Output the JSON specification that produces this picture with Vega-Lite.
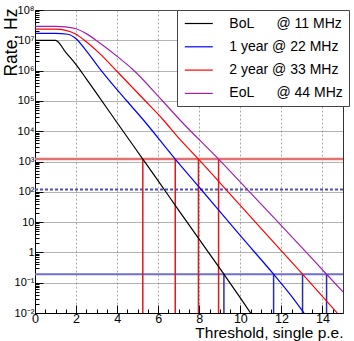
{
  "$schema": "https://vega.github.io/schema/vega-lite/v6.json",
  "width": 308,
  "height": 303,
  "autosize": {"type": "none"},
  "padding": {"left": 35, "top": 10, "right": 11, "bottom": 28},
  "background": "white",
  "config": {
    "font": "Liberation Sans",
    "view": {"stroke": "#333", "strokeWidth": 1},
    "axis": {
      "labelFont": "Liberation Sans",
      "titleFont": "Liberation Sans",
      "labelColor": "#000",
      "titleColor": "#000",
      "titleFontWeight": "normal",
      "domainColor": "#000",
      "tickColor": "#000"
    }
  },
  "layer": [
    {
      "data": {"values": [{"rate": 1200}]},
      "mark": {"type": "rule", "color": "#e57070", "strokeWidth": 2.5},
      "encoding": {
        "y": {"field": "rate", "type": "quantitative", "scale": {"type": "log", "domain": [0.01, 100000000], "nice": false}, "axis": null}
      }
    },
    {
      "data": {"values": [{"rate": 120}]},
      "mark": {"type": "rule", "color": "#4d4dc0", "strokeWidth": 2, "strokeDash": [3, 2]},
      "encoding": {
        "y": {"field": "rate", "type": "quantitative", "axis": null}
      }
    },
    {
      "data": {"values": [{"rate": 0.19}]},
      "mark": {"type": "rule", "color": "#6f6fd0", "strokeWidth": 2},
      "encoding": {
        "y": {"field": "rate", "type": "quantitative", "axis": null}
      }
    },
    {
      "data": {"values": [
        {"x": 5.25, "rate": 1200},
        {"x": 6.83, "rate": 1200},
        {"x": 7.96, "rate": 1200},
        {"x": 8.94, "rate": 1200}
      ]},
      "mark": {"type": "rule", "color": "#e01818", "strokeWidth": 1.5},
      "encoding": {
        "x": {"field": "x", "type": "quantitative", "axis": {
          "orient": "bottom",
          "values": [0.5, 1, 1.5, 2.5, 3, 3.5, 4.5, 5, 5.5, 6.5, 7, 7.5, 8.5, 9, 9.5, 10.5, 11, 11.5, 12.5, 13, 13.5, 14.5],
          "labels": false, "tickSize": -4, "domain": false, "grid": false, "title": null
        }},
        "y": {"field": "rate", "type": "quantitative", "axis": {
          "orient": "left",
          "values": [0.02,0.03,0.04,0.05,0.06,0.07,0.08,0.09,0.2,0.3,0.4,0.5,0.6,0.7,0.8,0.9,2,3,4,5,6,7,8,9,20,30,40,50,60,70,80,90,200,300,400,500,600,700,800,900,2000,3000,4000,5000,6000,7000,8000,9000,20000,30000,40000,50000,60000,70000,80000,90000,200000,300000,400000,500000,600000,700000,800000,900000,2000000,3000000,4000000,5000000,6000000,7000000,8000000,9000000,20000000,30000000,40000000,50000000,60000000,70000000,80000000,90000000],
          "labels": false, "tickSize": -4, "domain": false, "grid": false, "title": null
        }},
        "y2": {"datum": 0.01}
      }
    },
    {
      "data": {"values": [
        {"x": 9.2, "rate": 0.19},
        {"x": 11.62, "rate": 0.19},
        {"x": 13.03, "rate": 0.19},
        {"x": 14.2, "rate": 0.19}
      ]},
      "mark": {"type": "rule", "color": "#2a2ab0", "strokeWidth": 1.5},
      "encoding": {
        "x": {"field": "x", "type": "quantitative", "axis": null},
        "y": {"field": "rate", "type": "quantitative", "axis": null},
        "y2": {"datum": 0.01}
      }
    },
    {
      "data": {"values": [
        {"series": "BoL", "x": 0, "rate": 10000000},
        {"series": "BoL", "x": 1.0, "rate": 10000000},
        {"series": "BoL", "x": 1.5, "rate": 3981000},
        {"series": "BoL", "x": 2.0, "rate": 1585000},
        {"series": "BoL", "x": 2.5, "rate": 537000},
        {"series": "BoL", "x": 3.0, "rate": 177800},
        {"series": "BoL", "x": 4.0, "rate": 19050},
        {"series": "BoL", "x": 5.25, "rate": 1202},
        {"series": "BoL", "x": 6.0, "rate": 229},
        {"series": "BoL", "x": 7.0, "rate": 24.5},
        {"series": "BoL", "x": 8.0, "rate": 2.69},
        {"series": "BoL", "x": 9.2, "rate": 0.1905},
        {"series": "BoL", "x": 10.0, "rate": 0.0316},
        {"series": "BoL", "x": 10.5, "rate": 0.01},
        {"series": "1 year", "x": 0, "rate": 16980000},
        {"series": "1 year", "x": 1.0, "rate": 16980000},
        {"series": "1 year", "x": 1.6, "rate": 15850000},
        {"series": "1 year", "x": 2.0, "rate": 11220000},
        {"series": "1 year", "x": 2.5, "rate": 4467000},
        {"series": "1 year", "x": 3.17, "rate": 1122000},
        {"series": "1 year", "x": 3.81, "rate": 331100},
        {"series": "1 year", "x": 4.43, "rate": 107200},
        {"series": "1 year", "x": 5.28, "rate": 23440},
        {"series": "1 year", "x": 6.83, "rate": 1202},
        {"series": "1 year", "x": 8.0, "rate": 141.3},
        {"series": "1 year", "x": 10.0, "rate": 3.548},
        {"series": "1 year", "x": 11.62, "rate": 0.1905},
        {"series": "1 year", "x": 12.5, "rate": 0.0355},
        {"series": "1 year", "x": 13.1, "rate": 0.01},
        {"series": "2 year", "x": 0, "rate": 23440000},
        {"series": "2 year", "x": 1.0, "rate": 23440000},
        {"series": "2 year", "x": 1.5, "rate": 21380000},
        {"series": "2 year", "x": 2.0, "rate": 15850000},
        {"series": "2 year", "x": 2.5, "rate": 8913000},
        {"series": "2 year", "x": 3.17, "rate": 3548000},
        {"series": "2 year", "x": 4.0, "rate": 933300},
        {"series": "2 year", "x": 5.33, "rate": 107200},
        {"series": "2 year", "x": 6.25, "rate": 23440},
        {"series": "2 year", "x": 7.06, "rate": 5370},
        {"series": "2 year", "x": 7.96, "rate": 1202},
        {"series": "2 year", "x": 10.0, "rate": 35.5},
        {"series": "2 year", "x": 12.0, "rate": 1.122},
        {"series": "2 year", "x": 13.03, "rate": 0.1905},
        {"series": "2 year", "x": 14.72, "rate": 0.01},
        {"series": "EoL", "x": 0, "rate": 28840000},
        {"series": "EoL", "x": 1.0, "rate": 28840000},
        {"series": "EoL", "x": 1.5, "rate": 27540000},
        {"series": "EoL", "x": 2.0, "rate": 23990000},
        {"series": "EoL", "x": 2.5, "rate": 16600000},
        {"series": "EoL", "x": 3.17, "rate": 7943000},
        {"series": "EoL", "x": 4.0, "rate": 2951000},
        {"series": "EoL", "x": 4.79, "rate": 1047000},
        {"series": "EoL", "x": 6.17, "rate": 107200},
        {"series": "EoL", "x": 7.06, "rate": 23440},
        {"series": "EoL", "x": 8.94, "rate": 1202},
        {"series": "EoL", "x": 11.0, "rate": 39.8},
        {"series": "EoL", "x": 13.0, "rate": 1.445},
        {"series": "EoL", "x": 14.2, "rate": 0.1905},
        {"series": "EoL", "x": 15.0, "rate": 0.0501}
      ]},
      "mark": {"type": "line", "strokeWidth": 1.2, "interpolate": "monotone", "clip": true},
      "encoding": {
        "x": {"field": "x", "type": "quantitative", "scale": {"domain": [0, 15], "nice": false, "zero": false}, "axis": {
          "orient": "bottom",
          "values": [0, 2, 4, 6, 8, 10, 12, 14],
          "labelFontSize": 12.5, "labelFlush": false, "tickSize": -8, "labelPadding": 7.5,
          "grid": true, "gridColor": "#aaa", "gridDash": [2, 2], "gridWidth": 1,
          "title": "Threshold, single p.e.", "titleFontSize": 15.5,
          "titleX": 308, "titleY": 24.5, "titleAlign": "right", "titleBaseline": "alphabetic"
        }},
        "y": {"field": "rate", "type": "quantitative", "axis": {
          "orient": "left",
          "values": [0.01, 0.1, 1, 10, 100, 1000, 10000, 100000, 1000000, 10000000, 100000000],
          "labelExpr": "datum.value < 0.05 ? '10⁻²' : datum.value < 0.5 ? '10⁻¹' : datum.value < 5 ? '1' : datum.value < 50 ? '10' : '10' + ['','','²','³','⁴','⁵','⁶','⁷','⁸'][round(log(datum.value)/LN10)]",
          "labelFontSize": 11, "tickSize": -8, "labelPadding": 9,
          "grid": true, "gridColor": "#666", "gridDash": [1, 1], "gridWidth": 1,
          "title": "Rate, Hz", "titleFontSize": 17.5, "titleAngle": 270,
          "titleX": -18.5, "titleY": -2, "titleAlign": "right", "titleBaseline": "alphabetic"
        }},
        "color": {"field": "series", "type": "nominal",
          "scale": {"domain": ["BoL", "1 year", "2 year", "EoL"], "range": ["#000000", "#0000ff", "#ff0000", "#a020b0"]},
          "legend": {
            "orient": "none", "legendX": 142, "legendY": 0, "title": null,
            "symbolType": "M-2,0H2", "symbolSize": 196, "symbolStrokeWidth": 1.2, "symbolOffset": 8.3,
            "labelFontSize": 14, "labelFont": "Liberation Sans", "labelColor": "#000", "labelLimit": 300,
            "labelExpr": "datum.value == 'BoL' ? 'BoL\u00a0\u00a0\u00a0\u00a0\u00a0\u2009@ 11 MHz\u00a0\u00a0' : datum.value == '1 year' ? '1 year @ 22 MHz\u00a0\u00a0' : datum.value == '2 year' ? '2 year @ 33 MHz\u00a0\u00a0' : 'EoL\u00a0\u00a0\u00a0\u00a0\u00a0\u2009@ 44 MHz\u00a0\u00a0'",
            "strokeColor": "#444", "fillColor": "white", "padding": 5.5, "rowPadding": 8.3, "labelOffset": 22.5
          }
        }
      }
    }
  ],
  "resolve": {"axis": {"x": "independent", "y": "independent"}}
}
